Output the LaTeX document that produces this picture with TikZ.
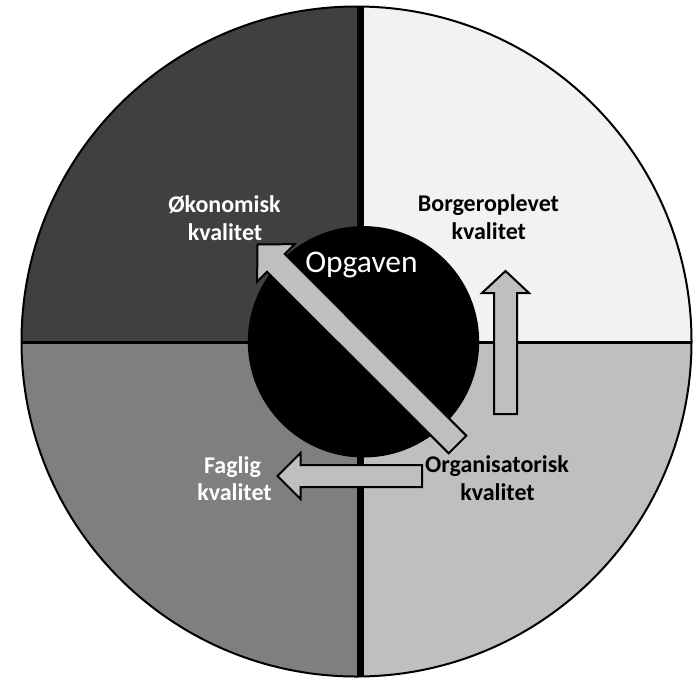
\documentclass[tikz,border=0pt]{standalone}
\usepackage{fontspec}
\setmainfont{Carlito}
\begin{document}
\begin{tikzpicture}[x=1pt,y=-1pt,
  quadTL/.style={fill=qdark},
  quadTR/.style={fill=qwhite},
  quadBL/.style={fill=qmid},
  quadBR/.style={fill=qlight},
  blockarrow/.style={draw=black,line width=2pt,fill=qlight,line join=miter},
  lbl/.style={anchor=base,inner sep=0pt,font=\fontsize{24}{28}\selectfont\bfseries},
  lblwhite/.style={lbl,text=white},
  lblblack/.style={lbl,text=black}]
\definecolor{qdark}{HTML}{404040}
\definecolor{qwhite}{HTML}{F2F2F2}
\definecolor{qmid}{HTML}{7F7F7F}
\definecolor{qlight}{HTML}{BFBFBF}
\useasboundingbox (0,0) rectangle (693,678);

% the four quality quadrants
\coordinate (c) at (356.5,341.5);
\begin{scope}
  \clip (c) circle[radius=335];
  \fill[quadTL] (0,0) rectangle (360,342.5);
  \fill[quadTR] (360,0) rectangle (693,342.5);
  \fill[quadBL] (0,342.5) rectangle (360,678);
  \fill[quadBR] (360,342.5) rectangle (693,678);
  \draw[line width=7pt] (360,0) -- (360,678);
  \draw[line width=3pt] (0,342.5) -- (693,342.5);
\end{scope}
\draw[line width=2pt] (c) circle[radius=335];

% the task in the middle
\node[circle,fill=black,inner sep=0pt,minimum size=231.4pt] (task) at (363.5,341.8) {};
\node[anchor=base,inner sep=0pt,text=white,font=\fontsize{31.5}{36}\selectfont] (taskname) at (361.5,272) {Opgaven};

% diagonal arrow towards economic quality
\draw[blockarrow] (257.5,244.5) coordinate (diagtip) -- (294.6,244.1) -- (284.7,254.0)
  -- (466.3,435.7) -- (448.7,453.3) -- (267.0,271.7) -- (257.1,281.6) -- cycle;
% upward arrow towards citizen-experienced quality
\draw[blockarrow] (505.5,271) coordinate (uptip) -- (529,293) -- (517,293) -- (517,414)
  -- (494,414) -- (494,293) -- (482,293) -- cycle;
% leftward arrow towards professional quality
\draw[blockarrow] (277.5,476) coordinate (lefttip) -- (300.5,453) -- (300.5,465) -- (422,465)
  -- (422,487) -- (300.5,487) -- (300.5,499) -- cycle;

% quadrant labels
\node[lblwhite] (oko1) at (224.5,212) {Økonomisk};
\node[lblwhite] (oko2) at (225,240) {kvalitet};
\node[lblblack] (borg1) at (488.5,211.7) {Borgeroplevet};
\node[lblblack] (borg2) at (488.8,239) {kvalitet};
\node[lblwhite] (fag1) at (232.5,473) {Faglig};
\node[lblwhite] (fag2) at (234.5,500) {kvalitet};
\node[lblblack] (org1) at (497,472) {Organisatorisk};
\node[lblblack] (org2) at (497.5,500) {kvalitet};
\end{tikzpicture}
\end{document}
